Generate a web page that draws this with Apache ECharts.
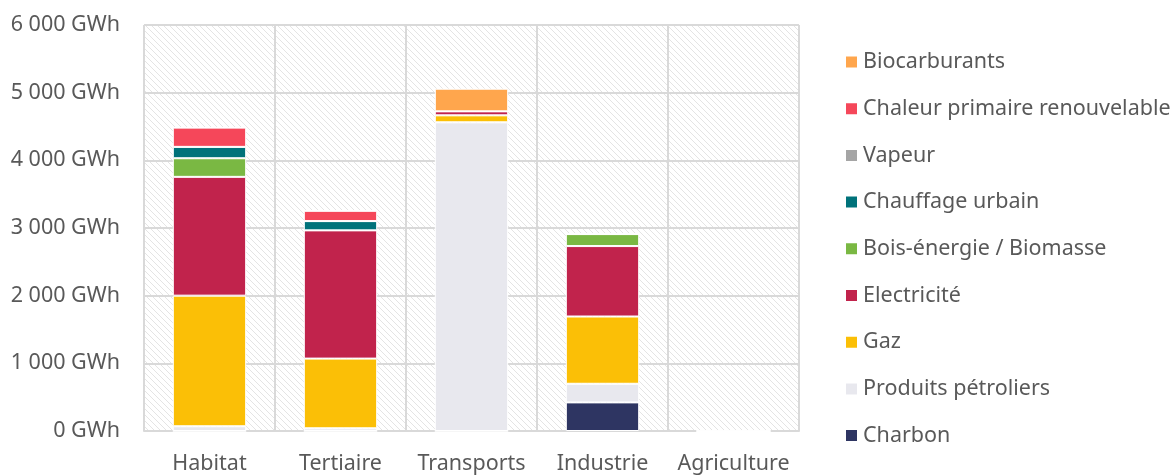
<!DOCTYPE html>
<html lang="fr">
<head>
<meta charset="utf-8">
<script src="https://cdn.jsdelivr.net/npm/echarts@6/dist/echarts.min.js"></script>
<style>
	html, body { margin: 0; padding: 0; background: #fff; }
	#chart { width: 1174px; height: 475px; }
</style>
</head>
<body>
<div id="chart"></div>
<script>
	// categories and values (GWh)
	var secteurs = ['Habitat', 'Tertiaire', 'Transports', 'Industrie', 'Agriculture'];
	var charbon = [0, 0, 0, 423, 0];
	var petrole = [70, 40, 4562, 275, 0];
	var gaz = [1930, 1030, 103, 994, 0];
	var electricite = [1756, 1895, 59, 1041, 0];
	var bois = [275, 0, 0, 177, 0];
	var chauffage = [168, 137, 0, 0, 0];
	var vapeur = [0, 0, 0, 0, 0];
	var chaleur = [285, 153, 0, 0, 0];
	var biocarb = [0, 0, 335, 0, 0];
	var yTicks = [0, 1000, 2000, 3000, 4000, 5000, 6000];

	// hatched background
	var hatch = document.createElement('canvas');
	hatch.width = 6; hatch.height = 6;
	var hc = hatch.getContext('2d');
	hc.fillStyle = '#ffffff';
	hc.fillRect(0, 0, 6, 6);
	hc.strokeStyle = '#e4e4e4';
	hc.lineWidth = 1;
	hc.beginPath();
	hc.moveTo(-1, -1); hc.lineTo(7, 7);
	hc.moveTo(-4, 2); hc.lineTo(4, 10);
	hc.moveTo(2, -4); hc.lineTo(10, 4);
	hc.stroke();

	var series = [
		['Charbon', charbon, '#2e3562'],
		['Produits pétroliers', petrole, '#e8e8ee'],
		['Gaz', gaz, '#fbbf06'],
		['Electricité', electricite, '#c1234c'],
		['Bois-énergie / Biomasse', bois, '#7ab843'],
		['Chauffage urbain', chauffage, '#00727a'],
		['Vapeur', vapeur, '#a5a5a5'],
		['Chaleur primaire renouvelable', chaleur, '#f5475a'],
		['Biocarburants', biocarb, '#ffa64d']
	];

	var chart = echarts.init(document.getElementById('chart'));
	chart.setOption({
		animation: false,
		textStyle: { fontFamily: 'Noto Sans' },
		legend: {
			orient: 'vertical',
			left: 839,
			top: 45,
			itemGap: 22.7,
			itemWidth: 13,
			itemHeight: 13,
			icon: 'rect',
			data: series.map(function (s) { return s[0]; }).reverse(),
			textStyle: { fontSize: 21.5, lineHeight: 24, color: '#595959', fontFamily: 'Noto Sans' }
		},
		grid: {
			left: 144, right: 375, top: 25, bottom: 43,
			show: true,
			backgroundColor: { image: hatch, repeat: 'repeat' },
			borderColor: '#eeeeee',
			borderWidth: 1
		},
		xAxis: {
			type: 'category',
			data: secteurs,
			axisLine: { lineStyle: { color: '#d9d9d9', width: 2 } },
			axisTick: { show: false },
			splitLine: { show: true, interval: 0, lineStyle: { color: '#d9d9d9', width: 2 } },
			axisLabel: { interval: 0, fontSize: 21.5, color: '#595959', margin: 22 }
		},
		yAxis: {
			type: 'value',
			min: yTicks[0],
			max: yTicks[yTicks.length - 1],
			interval: 1000,
			axisLine: { show: false },
			axisTick: { show: false },
			splitLine: { lineStyle: { color: '#d9d9d9', width: 2 } },
			axisLabel: {
				fontSize: 21.5, color: '#595959', margin: 24,
				formatter: function (v) {
					return String(v).replace(/\B(?=(\d{3})+(?!\d))/g, ' ') + ' GWh';
				}
			}
		},
		series: series.map(function (s) {
			return {
				name: s[0],
				type: 'bar',
				stack: 'total',
				data: s[1],
				barWidth: '56%',
				itemStyle: { color: s[2], borderColor: '#ffffff', borderWidth: 1 }
			};
		})
	});
</script>
</body>
</html>
